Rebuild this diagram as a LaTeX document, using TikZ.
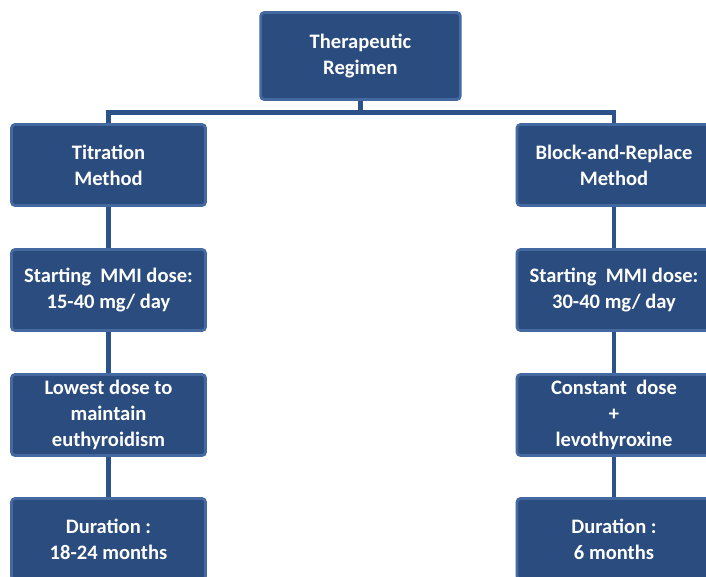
\documentclass[tikz,border=0pt]{standalone}
\usepackage{fontspec}
\setmainfont{Carlito}
\definecolor{boxfill}{HTML}{2B4C7E}
\definecolor{boxedge}{HTML}{4469A0}
\definecolor{linkcol}{HTML}{2C5389}

\begin{document}
\begin{tikzpicture}[x=0.02cm, y=-0.02cm,
    box/.style={draw=boxedge, fill=boxfill, line width=1.6pt, rounded corners=2pt,
      text=white, font=\bfseries\fontsize{11.7}{14.8}\selectfont, align=center,
      minimum width=3.88cm, minimum height=1.62cm, inner sep=2pt},
    link/.style={draw=linkcol, line width=2.8pt}]
      \useasboundingbox (0,0) rectangle (706,576);
      \clip (0,0) rectangle (706,576);
      % top
      \node[box, minimum width=3.99cm, minimum height=1.74cm] (regimen) at (360.5,56) {Therapeutic\\Regimen};
      % left column
      \node[box] (titr) at (108.5,165) {Titration\\Method};
      \node[box] (titrdose) at (108.5,290) {Starting~ MMI dose:\\15-40 mg/ day};
      \node[box] (titrlow) at (108.5,415) {Lowest dose to\\maintain\\euthyroidism};
      \node[box] (titrdur) at (108.5,539) {Duration :\\18-24 months};
      % right column
      \node[box] (blk) at (614,165) {Block-and-Replace\\Method};
      \node[box] (blkdose) at (614,290) {Starting~ MMI dose:\\30-40 mg/ day};
      \node[box] (blkconst) at (614,415) {Constant~ dose\\+\\levothyroxine};
      \node[box] (blkdur) at (614,539) {Duration :\\6 months};
      % links
      \draw[link] (regimen.south) -- ++(0,12) -| (titr.north);
      \draw[link] (regimen.south) -- ++(0,12) -| (blk.north);
      \draw[link] (titr) -- (titrdose);
      \draw[link] (titrdose) -- (titrlow);
      \draw[link] (titrlow) -- (titrdur);
      \draw[link] (blk) -- (blkdose);
      \draw[link] (blkdose) -- (blkconst);
      \draw[link] (blkconst) -- (blkdur);
    \end{tikzpicture}
\end{document}
